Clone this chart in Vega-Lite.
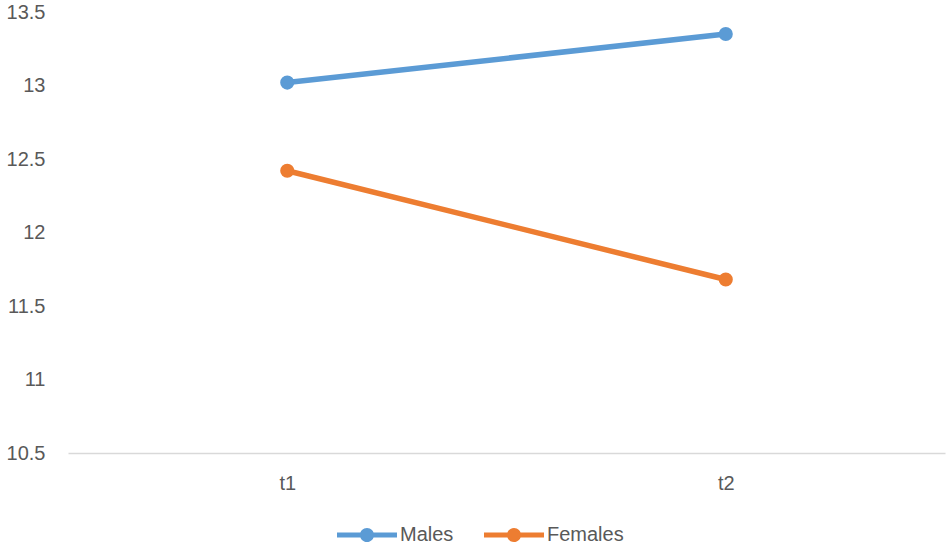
{
  "$schema": "https://vega.github.io/schema/vega-lite/v6.json",
  "width": 877,
  "height": 441,
  "autosize": {"type": "none"},
  "padding": {"left": 68, "top": 12, "right": 5, "bottom": 94},
  "background": "white",
  "config": {
    "view": {"stroke": null},
    "font": "Liberation Sans"
  },
  "data": {
    "values": [
      {"time": "t1", "group": "Males", "value": 13.02},
      {"time": "t2", "group": "Males", "value": 13.35},
      {"time": "t1", "group": "Females", "value": 12.42},
      {"time": "t2", "group": "Females", "value": 11.68}
    ]
  },
  "mark": {"type": "line", "strokeWidth": 5.5, "point": {"filled": true, "size": 200, "opacity": 1}},
  "encoding": {
    "x": {
      "field": "time",
      "type": "nominal",
      "title": null,
      "axis": {
        "labelAngle": 0,
        "ticks": false,
        "domainColor": "#D9D9D9",
        "domainWidth": 1.5,
        "labelColor": "#595959",
        "labelFontSize": 20,
        "labelPadding": 20,
        "grid": false
      }
    },
    "y": {
      "field": "value",
      "type": "quantitative",
      "title": null,
      "scale": {"domain": [10.5, 13.5], "nice": false, "zero": false},
      "axis": {
        "values": [10.5, 11, 11.5, 12, 12.5, 13, 13.5],
        "format": "~g",
        "domain": false,
        "ticks": false,
        "grid": false,
        "labelColor": "#595959",
        "labelFontSize": 20,
        "labelPadding": 23,
        "labelBaseline": "middle"
      }
    },
    "color": {
      "field": "group",
      "type": "nominal",
      "sort": ["Males", "Females"],
      "scale": {"domain": ["Males", "Females"], "range": ["#5B9BD5", "#ED7D31"]},
      "legend": {
        "title": null,
        "orient": "none",
        "direction": "horizontal",
        "legendX": 269,
        "legendY": 493,
        "padding": 0,
        "symbolType": "M-1,-0.085H1V0.085H-1Z M0.235,0A0.235,0.235,0,1,1,-0.235,0A0.235,0.235,0,1,1,0.235,0Z",
        "symbolSize": 3600,
        "symbolStrokeWidth": 0,
        "labelFontSize": 20,
        "labelColor": "#595959",
        "labelOffset": 3,
        "columnPadding": 30,
        "encode": {
          "symbols": {
            "update": {
              "fill": {"scale": "color", "field": "value"},
              "fillOpacity": {"value": 1},
              "opacity": {"value": 1},
              "strokeWidth": {"value": 0}
            }
          }
        }
      }
    }
  }
}
